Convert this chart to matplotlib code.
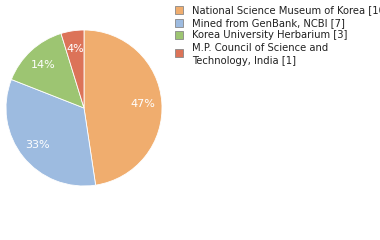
import matplotlib
matplotlib.use('Agg')
import matplotlib.pyplot as plt
from matplotlib.patches import Rectangle

# specimen counts by institution
labels = [
    "National Science Museum of Korea [10]",
    "Mined from GenBank, NCBI [7]",
    "Korea University Herbarium [3]",
    "M.P. Council of Science and\nTechnology, India [1]",
]
counts = [10, 7, 3, 1]
colors = ["#f0ad6e", "#9dbbe0", "#9dc572", "#dc7358"]

W, H = 380, 240
fig = plt.figure(figsize=(W / 100, H / 100), dpi=100)

# pie: center (84, 108) from top-left, radius 78 px
cx, cy, r = 84, 108, 78
ax = fig.add_axes([(cx - r) / W, (H - cy - r) / H, 2 * r / W, 2 * r / H])
ax.pie(counts, colors=colors, startangle=90, counterclock=False,
       autopct=lambda p: "%d%%" % int(p), pctdistance=0.76,
       wedgeprops=dict(edgecolor="white", linewidth=0.6),
       textprops=dict(color="white", fontsize=8, family="DejaVu Sans"))
ax.set_xlim(-1, 1)
ax.set_ylim(-1, 1)
ax.set_aspect("equal")
ax.axis("off")

# legend drawn by hand
rows = [10, 23, 35, 54.5]
sq_y = [10, 23, 35, 52.5]
for lab, col, y, sy in zip(labels, colors, rows, sq_y):
    fig.patches.append(Rectangle((175 / W, 1 - (sy + 4) / H), 8 / W, 8 / H,
                                 transform=fig.transFigure, facecolor=col,
                                 edgecolor="#888888", linewidth=0.6))
    fig.text(192 / W, 1 - y / H, lab, fontsize=7.2, color="#222222",
             va="center", ha="left", family="DejaVu Sans", linespacing=1.35)

plt.savefig("out.png", dpi=100)
